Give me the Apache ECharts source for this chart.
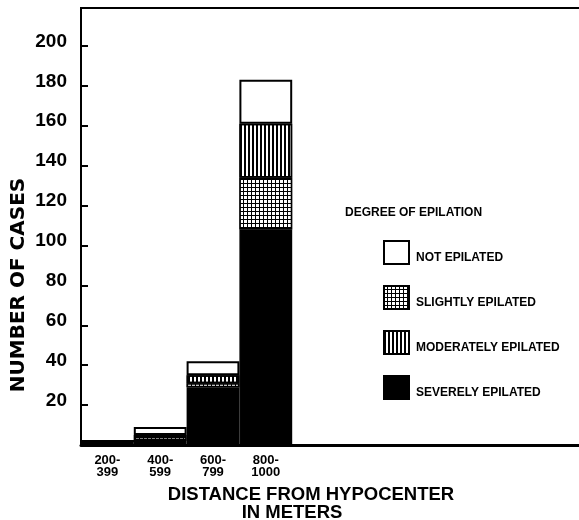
<!DOCTYPE html>
<html>
<head>
<meta charset="utf-8">
<script src="https://cdn.jsdelivr.net/npm/echarts@6/dist/echarts.min.js"></script>
<style>
  html, body { margin: 0; padding: 0; background: #fff; }
  #chart { width: 579px; height: 520px; }
</style>
</head>
<body>
<div id="chart"></div>
<script>
// distance bins (empty slots keep the frame running off to the right)
var categories = ['200-\n399', '400-\n599', '600-\n799', '800-\n1000', '', '', '', '', '', '']
var severe = [2, 2, 29, 108]
var slight = [0, 2, 2, 26]
var moderate = [0, 1, 4, 27]
var notEpilated = [0, 4, 7, 22]
var seriesNames = ['SEVERELY EPILATED', 'SLIGHTLY EPILATED', 'MODERATELY EPILATED', 'NOT EPILATED']
var legendOrder = ['NOT EPILATED', 'SLIGHTLY EPILATED', 'MODERATELY EPILATED', 'SEVERELY EPILATED']

var font = '"Liberation Sans", Arial, sans-serif'
var wideFont = '"DejaVu Sans", sans-serif'

var chart = echarts.init(document.getElementById('chart'))

function barSeries(name, data, itemStyle) {
  return {
    name: name,
    type: 'bar',
    stack: 'cases',
    barCategoryGap: '0%',
    data: data,
    itemStyle: itemStyle,
    emphasis: { disabled: true }
  }
}

var option = {
  animation: false,
  backgroundColor: '#fff',
  title: {
    text: 'DEGREE OF EPILATION',
    left: 345,
    top: 207,
    padding: 0,
    textStyle: { fontFamily: font, fontSize: 12, fontWeight: 'bold', color: '#000' }
  },
  legend: {
    data: legendOrder,
    orient: 'vertical',
    left: 383,
    top: 240,
    padding: 0,
    icon: 'rect',
    itemWidth: 25,
    itemHeight: 23,
    itemGap: 20,
    selectedMode: false,
    formatter: function(name) {
      return '{t|' + name + '}'
    },
    textStyle: {
      rich: {
        t: { fontFamily: font, fontSize: 12, fontWeight: 'bold', color: '#000', padding: [10, 0, 0, 2] }
      }
    }
  },
  grid: {
    left: 81,
    top: 8,
    width: 528,
    bottom: 75,
    outerBoundsMode: 'none',
    show: true,
    borderColor: '#000',
    borderWidth: 2
  },
  xAxis: {
    type: 'category',
    data: categories,
    axisLine: { lineStyle: { color: '#000', width: 3 } },
    axisTick: { show: false },
    axisLabel: {
      interval: 0,
      margin: 9,
      fontFamily: font,
      fontSize: 13,
      fontWeight: 'bold',
      color: '#000',
      lineHeight: 12
    }
  },
  yAxis: {
    type: 'value',
    min: 0,
    max: 219,
    interval: 20,
    splitLine: { show: false },
    axisLine: { show: true, lineStyle: { color: '#000', width: 2 } },
    axisTick: { show: true, inside: true, length: 7, lineStyle: { color: '#000', width: 2 } },
    axisLabel: {
      showMinLabel: false,
      showMaxLabel: false,
      margin: 14,
      fontFamily: font,
      fontSize: 19,
      fontWeight: 'bold',
      color: '#000',
      verticalAlign: 'bottom',
      lineHeight: 9
    }
  },
  graphic: [
    {
      type: 'text',
      x: 19,
      y: 285,
      rotation: Math.PI / 2,
      style: {
        text: 'NUMBER OF CASES',
        align: 'center',
        verticalAlign: 'middle',
        font: 'bold 20px ' + wideFont,
        fill: '#000'
      }
    },
    {
      type: 'text',
      x: 311,
      y: 495,
      style: {
        text: 'DISTANCE FROM HYPOCENTER',
        align: 'center',
        verticalAlign: 'middle',
        font: 'bold 18.5px ' + font,
        fill: '#000'
      }
    },
    {
      type: 'text',
      x: 292,
      y: 513,
      style: {
        text: 'IN METERS',
        align: 'center',
        verticalAlign: 'middle',
        font: 'bold 18.5px ' + font,
        fill: '#000'
      }
    }
  ],
  series: [
    barSeries(seriesNames[0], severe, { color: '#000', borderColor: '#000', borderWidth: 1.5 }),
    barSeries(seriesNames[1], slight, {
      color: '#000',
      borderColor: '#000',
      borderWidth: 1.5,
      decal: {
        symbol: 'rect',
        symbolSize: 1,
        symbolKeepAspect: false,
        color: '#fff',
        dashArrayX: [3, 1],
        dashArrayY: [3, 1]
      }
    }),
    barSeries(seriesNames[2], moderate, {
      color: '#fff',
      borderColor: '#000',
      borderWidth: 1.5,
      decal: {
        symbol: 'rect',
        symbolSize: 1,
        symbolKeepAspect: false,
        color: '#000',
        dashArrayX: [2, 2],
        dashArrayY: [4, 0]
      }
    }),
    barSeries(seriesNames[3], notEpilated, { color: '#fff', borderColor: '#000', borderWidth: 2 })
  ]
}

chart.setOption(option)
</script>
</body>
</html>
